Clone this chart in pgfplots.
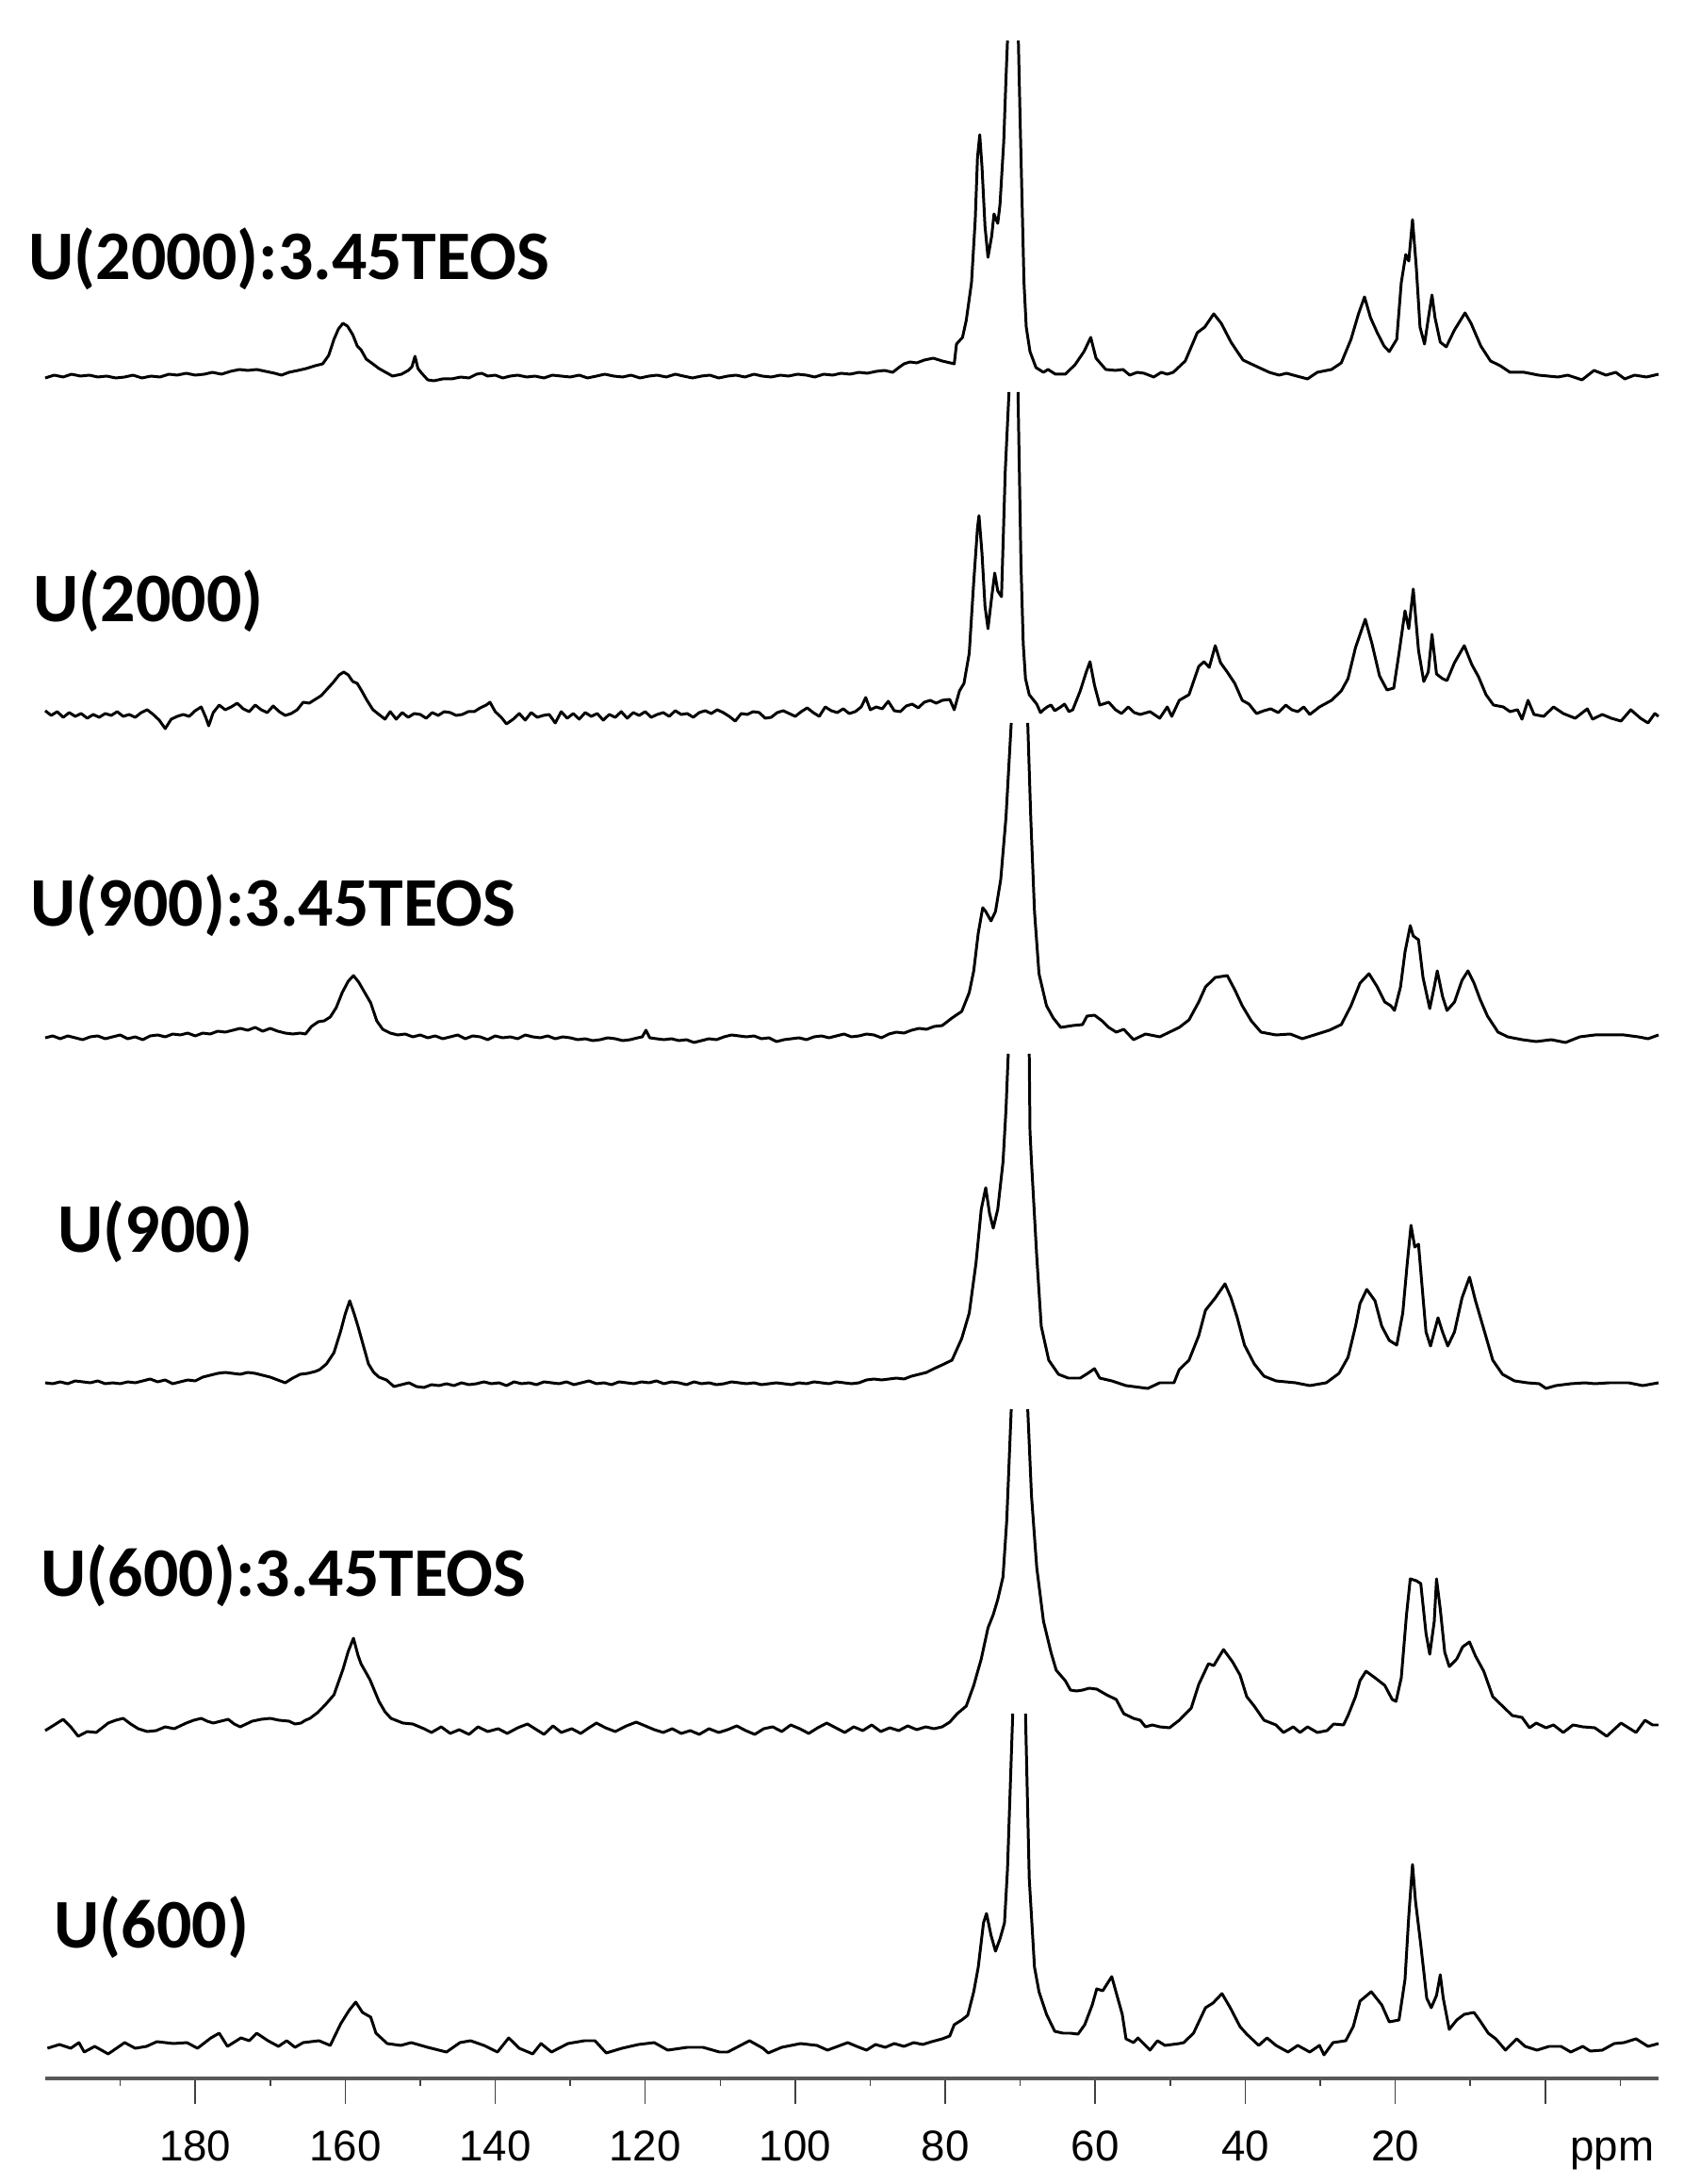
\documentclass[border=0pt]{standalone}
\usepackage{pgfplots}
\pgfplotsset{compat=1.18}
\usepackage{fontspec}
\setmainfont{Liberation Sans}
\newfontfamily\labfont{Carlito}

% one unit on both axes = 0.01 cm (one pixel of the reference)
\newcommand\lab[1]{{\labfont\bfseries\fontsize{21}{25}\selectfont #1}}

\begin{document}
\begin{tikzpicture}
\useasboundingbox (-0.48,-1.12) rectangle (17.56,22.05);
\begin{axis}[
    at={(0,0)}, anchor=south west,
    scale only axis,
    width=17.12cm, height=22.05cm,
    xmin=-15.1, xmax=200, ymin=0, ymax=2205,
    x dir=reverse,
    axis x line*=bottom, axis y line=none,
    ytick=\empty,
    xtick={0,20,...,180},
    xticklabels={,20,40,60,80,100,120,140,160,180},
    minor xtick={-10,10,30,...,190},
    tick align=outside,
    major tick length=0.27cm, minor tick length=0.08cm,
    axis line style={draw=black!65, line width=1pt},
    every tick/.style={draw=black!75, line width=0.45pt},
    xticklabel style={font=\fontsize{13}{15}\selectfont, anchor=base, yshift=-0.6cm},
    clip=false,
    every axis plot/.append style={black, line width=0.85pt, line join=round, mark=none},
]

% ---------- U(2000):3.45TEOS ----------
\addplot[y filter/.expression={y+1806}] coordinates {
(200,-2)(198.8,1)(197.6,-1)(196.5,2)(195.3,0)(194.1,1)(193,-1)(191.8,0)(190.6,-2)(189.4,-1)
(188.3,1)(187.1,-2)(185.9,0)(184.7,-1)(183.5,2)(182.4,1)(181.2,3)(180,1)(178.8,2)(177.7,4)
(176.5,2)(175.3,5)(174.1,7)(173,6)(171.8,7)(170.6,5)(169.4,3)(168.5,1)(167.5,4)(166.3,6)
(165.2,8)(164,11)(163,13)(162.2,22)(161.5,39)(160.9,50)(160.3,56)(159.7,53)(159,44)(158.4,32)
(157.9,28)(157.2,18)(156.5,14)(155.5,8)(154.6,4)(153.7,0)(152.5,2)(151.6,6)(151.1,10)(150.7,21)
(150.3,8)(149.8,3)(149,-4)(148.2,-5)(147,-3)(145.8,-3)(144.6,-1)(143.5,-2)(142.5,2)(141.8,3)
(141,0)(140,1)(139,-2)(138,0)(137,1)(135.8,-1)(134.7,0)(133.5,-2)(132.4,1)(131.2,0)
(130,-1)(128.8,1)(127.7,-2)(126.5,0)(125.4,2)(124.2,0)(123,-1)(121.9,1)(120.7,-2)(119.5,0)
(118.4,1)(117.2,-1)(116,2)(114.9,0)(113.7,-2)(112.5,0)(111.4,1)(110.2,-2)(109,0)(107.9,1)
(106.7,-1)(105.5,2)(104.4,0)(103.2,-1)(102,1)(100.9,0)(99.7,2)(98.5,1)(97.4,-1)(96.2,2)
(95,1)(93.9,3)(92.7,2)(91.5,4)(90.4,3)(89.2,5)(88.1,6)(87,4)(86.2,9)(85.5,13)
(84.7,15)(83.8,14)(82.8,17)(81.6,19)(80.4,16)(78.8,13)(78.5,34)(77.7,41)(77.2,59)(76.5,99)
(76,166)(75.7,232)(75.4,256)(75.1,222)(74.7,159)(74.3,126)(73.8,149)(73.5,172)(73,162)(72.7,182)
(72.2,249)(71.9,316)(71.7,356)
};
\addplot[y filter/.expression={y+1806}] coordinates {
(70.25,356)(70,266)(69.7,166)(69.5,99)(69.2,52)(68.7,26)(67.9,9)(66.9,4)(66.3,7)(65.3,2)
(64,2)(62.7,12)(61.5,26)(60.6,41)(59.9,19)(58.6,7)(57.3,6)(56.3,7)(55.4,1)(54.4,4)
(53.5,3)(52.2,-1)(51.2,4)(50.4,2)(49.6,4)(48,16)(46.4,46)(45.4,52)(44.2,66)(43.2,56)
(41.9,36)(40.3,17)(38.7,11)(36.8,4)(35.5,1)(34.5,3)(33.6,1)(31.7,-3)(30.4,4)(28.5,7)
(27.2,14)(25.9,39)(24.9,66)(24.1,84)(23.3,62)(22.4,46)(21.5,32)(20.8,26)(19.8,39)(19.2,99)
(18.6,129)(18.2,122)(17.7,166)(17.2,116)(16.7,52)(16.1,34)(15.5,66)(15.1,86)(14.7,62)(14,36)
(13.2,31)(12.1,49)(10.7,67)(9.9,56)(8.6,32)(7.3,16)(6,11)(4.7,4)(2.8,4)(0.9,1)
(-1.7,-1)(-3,1)(-4.9,-4)(-6.5,6)(-8.1,1)(-9.4,4)(-10.6,-3)(-11.9,1)(-13.5,-1)(-15.1,2)
};

% ---------- U(2000) ----------
\addplot[y filter/.expression={y+1447}] coordinates {
(200,4)(199.2,-1)(198.4,3)(197.6,-3)(196.8,2)(196,-2)(195.2,1)(194.4,-4)(193.6,0)(192.8,-3)
(192,1)(191.2,-1)(190.4,3)(189.6,-2)(188.8,0)(188,-3)(187.2,2)(186.4,5)(185.6,0)(184.8,-6)
(184,-15)(183.2,-5)(182.4,-2)(181.6,0)(180.8,-2)(180,4)(179.2,8)(178.6,-3)(178.2,-12)(177.6,2)
(176.8,10)(176,5)(175.2,8)(174.4,12)(173.6,6)(172.8,3)(172,10)(171.2,5)(170.4,2)(169.6,9)
(168.8,3)(168,-1)(167.2,1)(166.4,5)(165.6,13)(164.8,12)(164,16)(163.2,20)(162.4,27)(161.6,34)
(160.8,42)(160.2,45)(159.6,42)(159,35)(158.4,33)(157.8,25)(157.1,15)(156.3,5)(155.5,0)(154.7,-5)
(154,3)(153.2,-5)(152.4,2)(151.6,-3)(150.8,1)(150,0)(149.2,-4)(148.4,2)(147.6,-1)(146.8,3)
(146,2)(145.2,-1)(144.4,0)(143.6,3)(142.8,3)(142,7)(141.2,10)(140.7,13)(140,3)(139.2,-3)
(138.5,-10)(137.6,-5)(136.8,1)(136,-6)(135.2,2)(134.4,-3)(133.6,-1)(132.8,0)(132,-9)(131.2,3)
(130.4,-4)(129.6,1)(128.8,-5)(128,2)(127.2,-2)(126.4,1)(125.6,-6)(124.8,0)(124,-3)(123.2,3)
(122.4,-4)(121.6,2)(120.8,-1)(120,3)(119.2,-3)(118.4,0)(117.6,2)(116.8,-2)(116,4)(115.2,0)
(114.4,1)(113.6,-3)(112.8,2)(112,4)(111.2,1)(110.4,5)(109.6,2)(108.8,-2)(108,-7)(107.2,1)
(106.4,0)(105.6,3)(104.8,2)(104,-4)(103.2,-3)(102.4,2)(101.6,4)(100.8,1)(100,-2)(99.2,3)
(98.4,7)(97.6,2)(96.8,-2)(96,8)(95.2,4)(94.4,2)(93.6,6)(92.8,1)(92,3)(91.2,8)
(90.6,18)(90,5)(89.2,8)(88.4,6)(87.6,14)(86.8,4)(86,3)(85.2,9)(84.4,11)(83.6,7)
(82.8,13)(82,15)(81.2,12)(80.4,15)(79.4,16)(78.8,5)(78.1,25)(77.5,33)(76.8,65)(76.2,141)
(75.7,198)(75.5,211)(75.1,171)(74.7,115)(74.3,91)(73.8,125)(73.4,150)(73,131)(72.5,125)(72,258)
(71.5,342)
};
\addplot[y filter/.expression={y+1447}] coordinates {
(70.3,342)(69.9,158)(69.6,75)(69.3,38)(68.8,21)(67.8,11)(67.3,2)(66.9,5)(66.4,8)(65.9,10)
(65.4,4)(64.6,8)(64.1,11)(63.5,3)(63,5)(62,25)(61.2,45)(60.7,56)(60.1,31)(59.4,10)
(58.2,13)(57.3,5)(56.5,1)(55.6,8)(54.8,2)(54,0)(52.7,3)(51.4,-4)(50.4,8)(49.8,-2)
(48.8,15)(47.5,21)(46.2,51)(45.5,56)(44.8,50)(44,73)(43.3,55)(42.4,45)(41.4,33)(40.4,15)
(39.5,11)(38.5,1)(37.5,4)(36.6,6)(35.6,2)(34.6,10)(33.8,5)(33,3)(32.2,8)(31.4,0)
(30.1,8)(28.5,15)(27.2,25)(26.3,38)(25.3,71)(24,101)(23.1,75)(22.1,41)(21.1,26)(20.2,28)
(19.5,65)(18.7,110)(18.2,91)(17.6,133)(16.9,68)(16.2,35)(15.6,45)(15.1,85)(14.5,43)(13.7,38)
(13.1,36)(12.1,55)(10.8,73)(9.8,53)(8.9,40)(7.9,21)(6.9,10)(5.6,8)(4.7,3)(3.7,5)
(3.1,-5)(2.3,15)(1.5,0)(0.2,-2)(-1.1,8)(-2.4,1)(-4,-4)(-5.6,6)(-6.3,-5)(-7.6,0)
(-8.8,-4)(-10.1,-7)(-11.4,5)(-12.7,-4)(-13.7,-9)(-14.6,1)(-15.1,-2)
};

% ---------- U(900):3.45TEOS ----------
\addplot[y filter/.expression={y+1104}] coordinates {
(200,0)(199,2)(198,-1)(197,2)(196,0)(195,-2)(194,1)(193,2)(192,-1)(191,1)
(190,3)(189,-1)(188,1)(187,-2)(186,2)(185,3)(184,1)(183,4)(182,3)(181,5)
(180,2)(179,5)(178,4)(177,7)(176,6)(175,8)(174,10)(173,8)(172,11)(171,7)
(170,10)(169,7)(168,5)(167,4)(166,5)(165.3,4)(164.5,12)(163.6,17)(162.8,18)(162,22)
(161.2,32)(160.4,48)(159.6,60)(158.9,66)(158.2,59)(157.4,48)(156.6,37)(155.8,18)(155,9)(154,5)
(153,3)(152,4)(151,1)(150,3)(149,0)(148,2)(147,-1)(146,1)(145,3)(144,-1)
(143,2)(142,1)(141,-2)(140,2)(139,0)(138,1)(137,-1)(136,3)(135,1)(134,0)
(133,2)(132,-1)(131,1)(130,0)(129,-2)(128,-1)(127,-3)(126,-2)(125,0)(124,-1)
(123,-3)(122,-2)(121,0)(120.4,1)(119.9,8)(119.4,0)(118.5,-1)(117.5,-2)(116.5,-1)(115.5,-3)
(114.5,-2)(113.5,-5)(112.5,-3)(111.5,-1)(110.5,-2)(109.5,1)(108.5,3)(107.5,2)(106.5,1)(105.5,2)
(104.5,-1)(103.5,0)(102.5,-4)(101.5,-2)(100.5,-1)(99.5,0)(98.5,-2)(97.5,1)(96.5,2)(95.5,0)
(94.5,2)(93.5,4)(92.5,1)(91.5,2)(90.5,4)(89.5,3)(88.5,0)(87.5,4)(86.5,6)(85.5,5)
(84.5,8)(83.5,10)(82.5,9)(81.5,12)(80.4,13)(79.1,21)(77.8,28)(76.8,48)(76.2,71)(75.6,111)
(75,138)(74.6,134)(73.9,124)(73.3,134)(72.6,168)(71.9,234)(71.2,334)
};
\addplot[y filter/.expression={y+1104}] coordinates {
(69,334)(68.6,234)(68.1,134)(67.5,68)(66.5,34)(65.6,21)(64.6,11)(63,13)(61.7,14)(61.1,23)
(60.1,24)(59.1,18)(58.2,11)(57.2,6)(56.2,9)(54.9,-2)(53.3,4)(51.4,1)(50.1,6)(48.8,11)
(47.5,19)(46.2,38)(45.3,54)(44,64)(42.4,66)(41.4,51)(40.4,34)(39.2,18)(37.9,6)(35.9,3)
(34,4)(32.4,-1)(30.4,4)(28.8,8)(27.2,14)(25.9,34)(24.7,58)(23.5,68)(22.4,54)(21.4,38)
(20.6,34)(20.1,29)(19.3,54)(18.7,91)(18,119)(17.6,108)(16.9,104)(16.3,64)(15.4,31)(14.8,54)
(14.4,71)(13.7,44)(13.1,29)(12.1,38)(11.1,61)(10.3,71)(9.5,58)(8.7,41)(7.7,23)(6.3,6)
(5,1)(3.1,-2)(1.2,-4)(-0.8,-2)(-2.7,-5)(-4.6,1)(-6.6,3)(-8.5,3)(-10.5,3)(-12.4,1)
(-13.7,-1)(-15.1,3)
};

% ---------- U(900) ----------
\addplot[y filter/.expression={y+738}] coordinates {
(200,0)(199,-1)(198,1)(197,-1)(196,2)(195,1)(194,0)(193,2)(192,-1)(191,0)
(190,-1)(189,1)(188,0)(187,2)(186,4)(185,1)(184,3)(183,-1)(182,1)(181,3)
(180,2)(179,6)(178,8)(177,10)(176,11)(175,10)(174,9)(173,11)(172,10)(171,8)
(170,6)(169,3)(168,0)(167,5)(166,9)(165,10)(164,12)(163.4,14)(162.5,20)(161.5,32)
(160.6,55)(160,73)(159.4,87)(158.8,73)(158.3,60)(157.6,40)(156.9,20)(156.2,11)(155.5,6)(154.5,3)
(153.5,-4)(152.5,-2)(151.5,0)(150.5,-4)(149.5,-5)(148.5,-2)(147.5,-3)(146.5,-1)(145.5,-3)(144.5,0)
(143.5,-2)(142.5,-1)(141.5,1)(140.5,-1)(139.5,0)(138.5,-3)(137.5,1)(136.5,-1)(135.5,0)(134.5,-2)
(133.5,1)(132.5,0)(131.5,-1)(130.5,1)(129.5,-2)(128.5,0)(127.5,2)(126.5,-1)(125.5,0)(124.5,-2)
(123.5,1)(122.5,0)(121.5,-1)(120.5,1)(119.5,0)(118.5,2)(117.5,-1)(116.5,1)(115.5,0)(114.5,-2)
(113.5,1)(112.5,-1)(111.5,0)(110.5,-2)(109.5,-1)(108.5,1)(107.5,0)(106.5,-1)(105.5,0)(104.5,-2)
(103.5,-1)(102.5,0)(101.5,-1)(100.5,-2)(99.5,0)(98.5,-1)(97.5,1)(96.5,0)(95.5,-1)(94.5,1)
(93.5,0)(92.5,-1)(91.5,0)(90.5,3)(89.5,4)(88.5,3)(87.5,4)(86.5,5)(85.5,4)(84.5,7)
(83.5,9)(82.5,11)(81.5,15)(80.4,19)(79.1,24)(77.8,47)(76.8,74)(75.9,127)(75.2,184)(74.6,207)
(74.1,180)(73.6,164)(73,184)(72.3,234)(71.9,290)(71.6,349)
};
\addplot[y filter/.expression={y+738}] coordinates {
(68.8,349)(68.7,267)(68.5,234)(67.8,134)(67.2,60)(66.2,24)(64.9,9)(63.6,5)(62,5)(61,10)
(60.1,15)(59.4,5)(57.8,2)(55.9,-3)(53,-6)(51.4,0)(49.5,0)(48.8,14)(47.5,24)(46.2,50)
(45.3,77)(44,90)(42.7,105)(41.9,90)(41.1,70)(40.1,40)(38.8,20)(37.5,7)(35.9,2)(33.3,0)
(31.4,-3)(29.2,0)(27.5,10)(26.3,27)(25.3,60)(24.7,84)(23.8,99)(22.7,87)(21.8,60)(20.8,45)
(19.8,40)(19,74)(18.4,127)(17.9,167)(17.4,144)(16.9,147)(16.4,100)(15.9,54)(15.3,39)(14.8,54)
(14.3,69)(13.7,54)(13,39)(12.1,54)(11.1,90)(10.1,112)(9.3,87)(8.2,57)(7,24)(5.7,9)
(4.1,2)(2.4,0)(0.8,-1)(-0.1,-6)(-1.4,-3)(-3.4,-1)(-5.3,0)(-6.6,-1)(-8.5,0)(-11.1,0)
(-13,-3)(-15.1,0)
};

% ---------- U(600):3.45TEOS ----------
\addplot[y filter/.expression={y+371}] coordinates {
(200,-2)(198.8,4)(197.6,10)(196.6,2)(195.6,-8)(194.4,-3)(193.2,-4)(192.4,1)(191.6,6)(190.6,9)
(189.6,11)(188.6,5)(187.6,0)(186.4,-3)(185.2,-2)(184,2)(182.8,0)(182,3)(181.2,6)(180.2,9)
(179.2,11)(178.4,8)(177.6,6)(176.6,8)(175.6,10)(174.8,5)(174,2)(173.2,5)(172.4,8)(171.2,10)
(170,11)(168.8,9)(167.5,8)(166.7,5)(165.9,6)(165.3,9)(164.7,11)(163.7,17)(162.7,25)(161.5,36)
(160.3,63)(159.6,82)(158.9,96)(158.3,78)(157.9,69)(156.7,52)(155.5,29)(154.7,18)(153.9,11)(152.3,6)
(151,5)(149.5,0)(148.5,-4)(147.2,2)(146,-5)(144.8,-1)(143.5,-6)(142.3,2)(141,-3)(139.6,0)
(138.4,-5)(137,1)(135.7,5)(134.3,-2)(133.5,-6)(132.3,3)(131.2,-4)(129.8,0)(128.6,-5)(127.5,1)
(126.5,6)(125.3,1)(124,-3)(122.5,3)(121.2,7)(120,3)(118.8,-1)(117.6,-4)(116.4,0)(115.2,-5)
(114,-2)(112.8,-6)(111.5,0)(110.2,-4)(109,-1)(107.8,3)(106.6,-2)(105.4,-6)(104.2,0)(103,2)
(101.8,-3)(100.6,4)(99.4,0)(98.2,-5)(97,1)(95.8,6)(94.6,1)(93.4,-4)(92.2,2)(91,-2)
(89.8,4)(88.6,-3)(87.4,1)(86.2,-2)(85,3)(83.8,-1)(82.6,2)(81.5,0)(80.4,2)(79.4,7)
(78.4,16)(77.2,24)(76.2,46)(75.2,74)(74.3,107)(73.6,121)(73,137)(72.3,161)(71.8,221)(71.2,339)
};
\addplot[y filter/.expression={y+371}] coordinates {
(69,339)(68.5,247)(67.8,171)(66.9,114)(65.9,81)(65.2,62)(64,51)(63.3,41)(62.5,40)(61.7,41)
(60.8,43)(59.8,42)(58.5,36)(57.2,31)(56.2,16)(54.9,11)(54,9)(53.3,2)(52.4,4)(51.4,2)
(50.1,1)(48.8,9)(47.2,22)(46.2,47)(44.9,69)(44.2,67)(42.9,84)(41.7,71)(40.7,57)(39.8,34)
(38.8,24)(37.5,9)(35.9,4)(34.9,-4)(33.6,2)(32.7,-4)(31.7,2)(30.4,-4)(29.1,-2)(28.2,5)
(26.9,4)(26.3,14)(25.3,34)(24.7,51)(23.9,61)(22.7,54)(21.4,46)(20.4,31)(19.9,29)(19.2,54)
(18.5,121)(18,159)(17.6,158)(17.2,157)(16.6,154)(15.9,101)(15.4,79)(14.8,114)(14.5,159)(14,127)
(13.4,81)(12.8,66)(11.8,74)(11,87)(10.1,92)(9.3,77)(8.2,61)(7,34)(5.7,24)(4.4,14)
(3.1,12)(2.1,1)(1.2,6)(-0.1,1)(-1.1,4)(-2.4,-4)(-3.7,4)(-5,2)(-6.6,1)(-8.2,-8)
(-10.1,6)(-12.1,-4)(-13.3,9)(-14.3,4)(-15.1,4)
};

% ---------- U(600) ----------
\addplot[y filter/.expression={y+33}] coordinates {
(199.7,-1)(198.1,3)(196.6,-1)(195.5,5)(194.8,-5)(193.4,1)(191.6,-7)(189.4,5)(188,-1)(186.5,1)
(185.1,6)(182.9,4)(181.1,5)(179.7,-1)(177.9,10)(176.8,15)(175.7,1)(173.9,10)(172.8,7)(171.8,15)
(170.3,7)(168.9,1)(167.8,7)(166.7,0)(165.6,5)(163.5,7)(162,2)(160.6,25)(159.5,39)(158.6,48)
(157.7,37)(156.6,32)(155.9,15)(154.4,4)(152.6,2)(151.2,5)(149,0)(146.5,-5)(144.7,5)(143.3,7)
(141.5,2)(139.7,-5)(138.2,10)(136.8,-1)(135,-7)(133.9,4)(132.5,-5)(130.3,4)(128.1,7)(126.7,7)
(125.2,-6)(123.1,-1)(120.9,3)(118.8,5)(117,-3)(114.4,0)(112.3,0)(110.1,-5)(109,-5)(106.1,7)
(104.3,-1)(103.6,-6)(101.8,0)(99.3,4)(97.1,2)(95.7,-3)(93,5)(91.8,1)(90.5,-3)(89.3,3)
(88,0)(86.8,4)(85.5,1)(84.2,5)(83,3)(81.8,6)(80.4,9)(79.4,12)(78.8,24)(77.8,29)
(77,34)(76.2,59)(75.6,85)(74.9,132)(74.5,142)(73.9,119)(73.3,102)(72.7,115)(72.1,132)(71.7,189)
(71,354)
};
\addplot[y filter/.expression={y+33}] coordinates {
(69.3,354)(68.8,179)(68.1,85)(67.5,59)(66.5,35)(65.4,17)(64.3,15)(63.3,15)(62.3,14)(61.4,24)
(60.4,45)(59.8,62)(59,60)(57.8,75)(57.1,55)(56.4,35)(55.9,9)(54.9,5)(54.3,10)(52.7,-3)
(51.7,7)(50.7,2)(48.8,4)(48.2,5)(46.9,15)(45.3,42)(44.3,47)(43.1,57)(42,42)(40.7,22)
(39.8,14)(38.2,2)(37.1,10)(35.9,2)(34.3,-5)(33,2)(31.4,-5)(30.1,2)(29.5,-8)(28.3,5)
(26.6,7)(25.6,22)(24.7,49)(23.2,59)(21.8,45)(20.8,27)(19.5,29)(18.7,72)(18.2,139)(17.7,194)
(17.3,155)(16.6,109)(15.8,52)(15.2,42)(14.5,55)(14,77)(13.6,52)(12.8,19)(11.8,29)(10.8,35)
(9.5,37)(8.6,27)(7.6,15)(6.6,9)(5.3,-3)(3.8,9)(2.7,1)(1.1,-3)(-0.5,1)(-2.1,1)
(-3.4,-5)(-5,1)(-6,-4)(-7.6,-3)(-9.2,4)(-10.5,5)(-12.1,9)(-13.7,1)(-15.1,4)
};

\end{axis}

% sample labels and the unit, placed in cm from the lower left corner of the axis
\node[anchor=base west, inner sep=0pt] at (-0.18,19.08) {\lab{U(2000):3.45TEOS}};
\node[anchor=base west, inner sep=0pt] at (-0.13,15.45) {\lab{U(2000)}};
\node[anchor=base west, inner sep=0pt] at (-0.16,12.22) {\lab{U(900):3.45TEOS}};
\node[anchor=base west, inner sep=0pt] at (0.13,8.76) {\lab{U(900)}};
\node[anchor=base west, inner sep=0pt] at (-0.05,5.11) {\lab{U(600):3.45TEOS}};
\node[anchor=base west, inner sep=0pt] at (0.09,1.38) {\lab{U(600)}};
\node[anchor=base, inner sep=0pt, font=\fontsize{13}{15}\selectfont] at (16.63,-0.87) {ppm};
\end{tikzpicture}
\end{document}
